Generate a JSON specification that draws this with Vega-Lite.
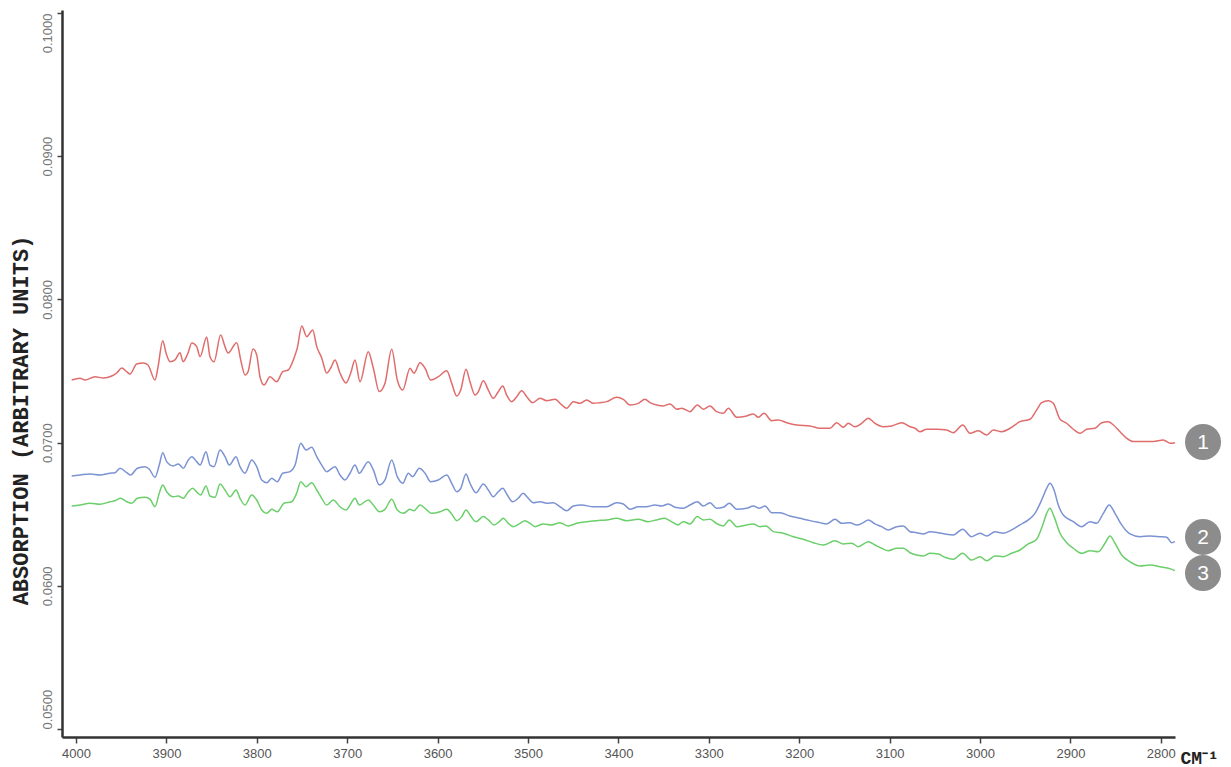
{
"$schema": "https://vega.github.io/schema/vega-lite/v6.json",
"width": 1113, "height": 727,
"autosize": "none",
"padding": {"left": 62, "top": 10, "right": 56, "bottom": 30},
"background": "white",
"config": {"view": {"stroke": null}, "font": "Liberation Sans"},
"datasets": {
"spectra": [
{"s":"1","w":4004.8,"a":0.07437},{"s":"1","w":3995.6,"a":0.07449},{"s":"1","w":3990,"a":0.07437},{"s":"1","w":3979,"a":0.07460},{"s":"1","w":3970,"a":0.07451},{"s":"1","w":3960.5,"a":0.07465},{"s":"1","w":3955,"a":0.07486},{"s":"1","w":3949.4,"a":0.07521},{"s":"1","w":3943.9,"a":0.07495},{"s":"1","w":3940.3,"a":0.07479},{"s":"1","w":3932.9,"a":0.07549},{"s":"1","w":3925.6,"a":0.07556},{"s":"1","w":3920.4,"a":0.07542},{"s":"1","w":3912.6,"a":0.07437},{"s":"1","w":3909.3,"a":0.07528},{"s":"1","w":3904.1,"a":0.07712},{"s":"1","w":3900.4,"a":0.07626},{"s":"1","w":3896,"a":0.07565},{"s":"1","w":3890.5,"a":0.07577},{"s":"1","w":3885,"a":0.07628},{"s":"1","w":3881.6,"a":0.07565},{"s":"1","w":3876.1,"a":0.07626},{"s":"1","w":3872,"a":0.07696},{"s":"1","w":3866.5,"a":0.07670},{"s":"1","w":3862.8,"a":0.07600},{"s":"1","w":3855.4,"a":0.07737},{"s":"1","w":3851.8,"a":0.07600},{"s":"1","w":3847.3,"a":0.07565},{"s":"1","w":3840,"a":0.07751},{"s":"1","w":3835.2,"a":0.07670},{"s":"1","w":3831.9,"a":0.07626},{"s":"1","w":3822.2,"a":0.07698},{"s":"1","w":3817.8,"a":0.07577},{"s":"1","w":3813,"a":0.07472},{"s":"1","w":3809.7,"a":0.07495},{"s":"1","w":3804.2,"a":0.07654},{"s":"1","w":3800.1,"a":0.07612},{"s":"1","w":3796.5,"a":0.07460},{"s":"1","w":3792,"a":0.07402},{"s":"1","w":3785.4,"a":0.07460},{"s":"1","w":3778,"a":0.07425},{"s":"1","w":3771.3,"a":0.07495},{"s":"1","w":3765.2,"a":0.07507},{"s":"1","w":3759.6,"a":0.07577},{"s":"1","w":3755.2,"a":0.07661},{"s":"1","w":3750.3,"a":0.07814},{"s":"1","w":3744.8,"a":0.07740},{"s":"1","w":3738.2,"a":0.07786},{"s":"1","w":3733.7,"a":0.07670},{"s":"1","w":3728.2,"a":0.07591},{"s":"1","w":3722.7,"a":0.07486},{"s":"1","w":3718.3,"a":0.07521},{"s":"1","w":3713.5,"a":0.07577},{"s":"1","w":3708,"a":0.07486},{"s":"1","w":3701.3,"a":0.07416},{"s":"1","w":3696.1,"a":0.07486},{"s":"1","w":3691.4,"a":0.07577},{"s":"1","w":3685.8,"a":0.07425},{"s":"1","w":3676.7,"a":0.07635},{"s":"1","w":3671.1,"a":0.07519},{"s":"1","w":3664.5,"a":0.07356},{"s":"1","w":3658.2,"a":0.07414},{"s":"1","w":3650.8,"a":0.07652},{"s":"1","w":3644.6,"a":0.07437},{"s":"1","w":3638.6,"a":0.07367},{"s":"1","w":3630.5,"a":0.07519},{"s":"1","w":3626.1,"a":0.07484},{"s":"1","w":3619.5,"a":0.07558},{"s":"1","w":3613.9,"a":0.07519},{"s":"1","w":3607.6,"a":0.07437},{"s":"1","w":3599.2,"a":0.07460},{"s":"1","w":3589.9,"a":0.07502},{"s":"1","w":3584.4,"a":0.07414},{"s":"1","w":3578.9,"a":0.07325},{"s":"1","w":3574.4,"a":0.07367},{"s":"1","w":3568.6,"a":0.07512},{"s":"1","w":3564.2,"a":0.07425},{"s":"1","w":3558.6,"a":0.07332},{"s":"1","w":3555,"a":0.07355},{"s":"1","w":3549.4,"a":0.07432},{"s":"1","w":3543.9,"a":0.07367},{"s":"1","w":3538.4,"a":0.07309},{"s":"1","w":3532.9,"a":0.07355},{"s":"1","w":3528,"a":0.07395},{"s":"1","w":3523.6,"a":0.07332},{"s":"1","w":3518.1,"a":0.07286},{"s":"1","w":3512.5,"a":0.07320},{"s":"1","w":3507,"a":0.07362},{"s":"1","w":3501.4,"a":0.07320},{"s":"1","w":3494.8,"a":0.07279},{"s":"1","w":3486.7,"a":0.07309},{"s":"1","w":3479.3,"a":0.07293},{"s":"1","w":3470.1,"a":0.07302},{"s":"1","w":3462.7,"a":0.07263},{"s":"1","w":3457.2,"a":0.07240},{"s":"1","w":3449.9,"a":0.07286},{"s":"1","w":3442.5,"a":0.07274},{"s":"1","w":3435.1,"a":0.07298},{"s":"1","w":3427.8,"a":0.07274},{"s":"1","w":3420.4,"a":0.07279},{"s":"1","w":3413,"a":0.07286},{"s":"1","w":3402,"a":0.07316},{"s":"1","w":3394.6,"a":0.07302},{"s":"1","w":3387.2,"a":0.07263},{"s":"1","w":3378,"a":0.07274},{"s":"1","w":3370.6,"a":0.07302},{"s":"1","w":3365,"a":0.07279},{"s":"1","w":3357.6,"a":0.07263},{"s":"1","w":3350.3,"a":0.07256},{"s":"1","w":3342.9,"a":0.07270},{"s":"1","w":3335.5,"a":0.07233},{"s":"1","w":3329.9,"a":0.07240},{"s":"1","w":3320.8,"a":0.07216},{"s":"1","w":3312.7,"a":0.07263},{"s":"1","w":3306.1,"a":0.07233},{"s":"1","w":3298.7,"a":0.07256},{"s":"1","w":3291.3,"a":0.07216},{"s":"1","w":3283.9,"a":0.07205},{"s":"1","w":3278.4,"a":0.07240},{"s":"1","w":3269.1,"a":0.07177},{"s":"1","w":3258.1,"a":0.07186},{"s":"1","w":3250.8,"a":0.07200},{"s":"1","w":3245.2,"a":0.07177},{"s":"1","w":3238.9,"a":0.07205},{"s":"1","w":3230.4,"a":0.07153},{"s":"1","w":3223.1,"a":0.07158},{"s":"1","w":3213.8,"a":0.07139},{"s":"1","w":3202.8,"a":0.07123},{"s":"1","w":3188.1,"a":0.07116},{"s":"1","w":3177,"a":0.07100},{"s":"1","w":3166,"a":0.07100},{"s":"1","w":3158.5,"a":0.07139},{"s":"1","w":3151.2,"a":0.07107},{"s":"1","w":3145.7,"a":0.07135},{"s":"1","w":3138.3,"a":0.07111},{"s":"1","w":3130.9,"a":0.07135},{"s":"1","w":3123.6,"a":0.07170},{"s":"1","w":3116.2,"a":0.07135},{"s":"1","w":3107,"a":0.07111},{"s":"1","w":3097.7,"a":0.07116},{"s":"1","w":3086.7,"a":0.07139},{"s":"1","w":3077.4,"a":0.07111},{"s":"1","w":3071.9,"a":0.07100},{"s":"1","w":3066.4,"a":0.07076},{"s":"1","w":3059,"a":0.07093},{"s":"1","w":3047.9,"a":0.07093},{"s":"1","w":3036.8,"a":0.07088},{"s":"1","w":3029.5,"a":0.07069},{"s":"1","w":3019.1,"a":0.07123},{"s":"1","w":3011.1,"a":0.07065},{"s":"1","w":3001.9,"a":0.07083},{"s":"1","w":2992.6,"a":0.07053},{"s":"1","w":2985.3,"a":0.07088},{"s":"1","w":2976,"a":0.07076},{"s":"1","w":2966.8,"a":0.07100},{"s":"1","w":2955.8,"a":0.07146},{"s":"1","w":2944.7,"a":0.07163},{"s":"1","w":2937.3,"a":0.07228},{"s":"1","w":2931.8,"a":0.07279},{"s":"1","w":2924.4,"a":0.07293},{"s":"1","w":2918.9,"a":0.07274},{"s":"1","w":2911.5,"a":0.07163},{"s":"1","w":2904.1,"a":0.07135},{"s":"1","w":2896.8,"a":0.07093},{"s":"1","w":2889.4,"a":0.07065},{"s":"1","w":2882,"a":0.07093},{"s":"1","w":2872.8,"a":0.07100},{"s":"1","w":2865.4,"a":0.07139},{"s":"1","w":2858.1,"a":0.07146},{"s":"1","w":2852.5,"a":0.07123},{"s":"1","w":2845.1,"a":0.07076},{"s":"1","w":2837.7,"a":0.07030},{"s":"1","w":2830.4,"a":0.07007},{"s":"1","w":2819.4,"a":0.07007},{"s":"1","w":2808.3,"a":0.07007},{"s":"1","w":2797.3,"a":0.07018},{"s":"1","w":2789.4,"a":0.06995},{"s":"1","w":2784.3,"a":0.06999},
{"s":"2","w":4004.8,"a":0.06767},{"s":"2","w":3995.6,"a":0.06774},{"s":"2","w":3984.5,"a":0.06781},{"s":"2","w":3973.5,"a":0.06774},{"s":"2","w":3962.4,"a":0.06786},{"s":"2","w":3956.9,"a":0.06790},{"s":"2","w":3951.3,"a":0.06821},{"s":"2","w":3943.9,"a":0.06790},{"s":"2","w":3939.5,"a":0.06774},{"s":"2","w":3932.2,"a":0.06821},{"s":"2","w":3923.7,"a":0.06832},{"s":"2","w":3918.9,"a":0.06814},{"s":"2","w":3912.6,"a":0.06758},{"s":"2","w":3907.9,"a":0.06843},{"s":"2","w":3904.1,"a":0.06929},{"s":"2","w":3899.7,"a":0.06867},{"s":"2","w":3892.4,"a":0.06837},{"s":"2","w":3886.8,"a":0.06851},{"s":"2","w":3881.3,"a":0.06821},{"s":"2","w":3875.8,"a":0.06879},{"s":"2","w":3872,"a":0.06902},{"s":"2","w":3866.5,"a":0.06867},{"s":"2","w":3862.8,"a":0.06843},{"s":"2","w":3856.2,"a":0.06936},{"s":"2","w":3851.8,"a":0.06843},{"s":"2","w":3847.3,"a":0.06832},{"s":"2","w":3840.7,"a":0.06948},{"s":"2","w":3835.2,"a":0.06902},{"s":"2","w":3830.4,"a":0.06843},{"s":"2","w":3823,"a":0.06902},{"s":"2","w":3818.6,"a":0.06832},{"s":"2","w":3813.1,"a":0.06786},{"s":"2","w":3805.6,"a":0.06879},{"s":"2","w":3800.1,"a":0.06832},{"s":"2","w":3794.6,"a":0.06739},{"s":"2","w":3789,"a":0.06720},{"s":"2","w":3783.5,"a":0.06751},{"s":"2","w":3777.3,"a":0.06727},{"s":"2","w":3771.3,"a":0.06786},{"s":"2","w":3763.3,"a":0.06797},{"s":"2","w":3757.7,"a":0.06843},{"s":"2","w":3751.4,"a":0.06995},{"s":"2","w":3745.6,"a":0.06948},{"s":"2","w":3739.3,"a":0.06967},{"s":"2","w":3733.7,"a":0.06902},{"s":"2","w":3728.2,"a":0.06843},{"s":"2","w":3722.7,"a":0.06797},{"s":"2","w":3713.5,"a":0.06832},{"s":"2","w":3708,"a":0.06774},{"s":"2","w":3702.4,"a":0.06739},{"s":"2","w":3696.9,"a":0.06786},{"s":"2","w":3691.4,"a":0.06843},{"s":"2","w":3686.6,"a":0.06786},{"s":"2","w":3676.7,"a":0.06867},{"s":"2","w":3671.1,"a":0.06809},{"s":"2","w":3664.5,"a":0.06704},{"s":"2","w":3658.2,"a":0.06739},{"s":"2","w":3650.8,"a":0.06879},{"s":"2","w":3644.6,"a":0.06762},{"s":"2","w":3638.6,"a":0.06716},{"s":"2","w":3632.4,"a":0.06786},{"s":"2","w":3627.6,"a":0.06762},{"s":"2","w":3620.2,"a":0.06821},{"s":"2","w":3613.9,"a":0.06786},{"s":"2","w":3607.6,"a":0.06727},{"s":"2","w":3599.2,"a":0.06739},{"s":"2","w":3589.9,"a":0.06774},{"s":"2","w":3584.4,"a":0.06716},{"s":"2","w":3578.9,"a":0.06657},{"s":"2","w":3574.4,"a":0.06681},{"s":"2","w":3568.6,"a":0.06781},{"s":"2","w":3564.2,"a":0.06716},{"s":"2","w":3557.5,"a":0.06650},{"s":"2","w":3549.4,"a":0.06711},{"s":"2","w":3543.9,"a":0.06669},{"s":"2","w":3538.4,"a":0.06622},{"s":"2","w":3532.9,"a":0.06657},{"s":"2","w":3528,"a":0.06681},{"s":"2","w":3522.9,"a":0.06634},{"s":"2","w":3517,"a":0.06587},{"s":"2","w":3510.8,"a":0.06611},{"s":"2","w":3505.3,"a":0.06646},{"s":"2","w":3499.7,"a":0.06611},{"s":"2","w":3494.2,"a":0.06580},{"s":"2","w":3486.7,"a":0.06587},{"s":"2","w":3479.3,"a":0.06576},{"s":"2","w":3472,"a":0.06580},{"s":"2","w":3464.6,"a":0.06552},{"s":"2","w":3457.2,"a":0.06524},{"s":"2","w":3449.9,"a":0.06557},{"s":"2","w":3440.6,"a":0.06564},{"s":"2","w":3427.8,"a":0.06552},{"s":"2","w":3413,"a":0.06552},{"s":"2","w":3402,"a":0.06580},{"s":"2","w":3394.6,"a":0.06571},{"s":"2","w":3387.2,"a":0.06534},{"s":"2","w":3378,"a":0.06552},{"s":"2","w":3369.2,"a":0.06552},{"s":"2","w":3359.5,"a":0.06564},{"s":"2","w":3352.1,"a":0.06557},{"s":"2","w":3344.8,"a":0.06571},{"s":"2","w":3337.4,"a":0.06548},{"s":"2","w":3328.2,"a":0.06541},{"s":"2","w":3320.8,"a":0.06564},{"s":"2","w":3312.7,"a":0.06587},{"s":"2","w":3306.1,"a":0.06557},{"s":"2","w":3298.7,"a":0.06580},{"s":"2","w":3291.3,"a":0.06541},{"s":"2","w":3284,"a":0.06548},{"s":"2","w":3277.3,"a":0.06576},{"s":"2","w":3269.1,"a":0.06534},{"s":"2","w":3258.1,"a":0.06541},{"s":"2","w":3250.8,"a":0.06557},{"s":"2","w":3244.1,"a":0.06541},{"s":"2","w":3237.8,"a":0.06557},{"s":"2","w":3230.4,"a":0.06510},{"s":"2","w":3221.2,"a":0.06510},{"s":"2","w":3210.2,"a":0.06487},{"s":"2","w":3199.1,"a":0.06471},{"s":"2","w":3188.1,"a":0.06455},{"s":"2","w":3177,"a":0.06441},{"s":"2","w":3169.6,"a":0.06432},{"s":"2","w":3160.4,"a":0.06464},{"s":"2","w":3153,"a":0.06436},{"s":"2","w":3143.8,"a":0.06441},{"s":"2","w":3136.4,"a":0.06424},{"s":"2","w":3129.1,"a":0.06441},{"s":"2","w":3123.6,"a":0.06460},{"s":"2","w":3116.2,"a":0.06432},{"s":"2","w":3108.8,"a":0.06413},{"s":"2","w":3101.5,"a":0.06390},{"s":"2","w":3092.2,"a":0.06413},{"s":"2","w":3084.9,"a":0.06418},{"s":"2","w":3077.4,"a":0.06378},{"s":"2","w":3070,"a":0.06371},{"s":"2","w":3062.7,"a":0.06362},{"s":"2","w":3055.3,"a":0.06378},{"s":"2","w":3046.1,"a":0.06371},{"s":"2","w":3038.8,"a":0.06362},{"s":"2","w":3029.6,"a":0.06355},{"s":"2","w":3019.2,"a":0.06395},{"s":"2","w":3009.3,"a":0.06343},{"s":"2","w":3000,"a":0.06367},{"s":"2","w":2992.6,"a":0.06348},{"s":"2","w":2983.4,"a":0.06378},{"s":"2","w":2974.2,"a":0.06367},{"s":"2","w":2965,"a":0.06390},{"s":"2","w":2955.8,"a":0.06425},{"s":"2","w":2946.6,"a":0.06460},{"s":"2","w":2939.2,"a":0.06506},{"s":"2","w":2931.8,"a":0.06599},{"s":"2","w":2926.3,"a":0.06681},{"s":"2","w":2922.6,"a":0.06716},{"s":"2","w":2918.1,"a":0.06669},{"s":"2","w":2913.4,"a":0.06564},{"s":"2","w":2907.9,"a":0.06494},{"s":"2","w":2896.8,"a":0.06448},{"s":"2","w":2887.5,"a":0.06413},{"s":"2","w":2878.3,"a":0.06448},{"s":"2","w":2870.9,"a":0.06436},{"s":"2","w":2863.6,"a":0.06506},{"s":"2","w":2857,"a":0.06564},{"s":"2","w":2850.7,"a":0.06506},{"s":"2","w":2843.3,"a":0.06425},{"s":"2","w":2834.1,"a":0.06362},{"s":"2","w":2823,"a":0.06343},{"s":"2","w":2812,"a":0.06348},{"s":"2","w":2800.9,"a":0.06343},{"s":"2","w":2793.5,"a":0.06339},{"s":"2","w":2788,"a":0.06301},{"s":"2","w":2784.3,"a":0.06308},
{"s":"3","w":4004.8,"a":0.06557},{"s":"3","w":3995.6,"a":0.06564},{"s":"3","w":3984.5,"a":0.06576},{"s":"3","w":3973.5,"a":0.06569},{"s":"3","w":3962.4,"a":0.06587},{"s":"3","w":3956.9,"a":0.06594},{"s":"3","w":3950.6,"a":0.06611},{"s":"3","w":3943.9,"a":0.06587},{"s":"3","w":3938.4,"a":0.06576},{"s":"3","w":3932.2,"a":0.06611},{"s":"3","w":3923.7,"a":0.06618},{"s":"3","w":3918.1,"a":0.06604},{"s":"3","w":3912.6,"a":0.06552},{"s":"3","w":3907.9,"a":0.06646},{"s":"3","w":3904.1,"a":0.06704},{"s":"3","w":3899.7,"a":0.06657},{"s":"3","w":3892.4,"a":0.06622},{"s":"3","w":3886.8,"a":0.06627},{"s":"3","w":3881.3,"a":0.06611},{"s":"3","w":3875.8,"a":0.06657},{"s":"3","w":3870.9,"a":0.06681},{"s":"3","w":3865.8,"a":0.06650},{"s":"3","w":3862.1,"a":0.06634},{"s":"3","w":3856.2,"a":0.06697},{"s":"3","w":3851.8,"a":0.06627},{"s":"3","w":3846.2,"a":0.06618},{"s":"3","w":3840.7,"a":0.06711},{"s":"3","w":3835.2,"a":0.06669},{"s":"3","w":3829.6,"a":0.06622},{"s":"3","w":3823,"a":0.06669},{"s":"3","w":3818.6,"a":0.06611},{"s":"3","w":3813.1,"a":0.06564},{"s":"3","w":3805.6,"a":0.06634},{"s":"3","w":3800.1,"a":0.06599},{"s":"3","w":3794.6,"a":0.06529},{"s":"3","w":3789,"a":0.06506},{"s":"3","w":3783.5,"a":0.06534},{"s":"3","w":3777.3,"a":0.06517},{"s":"3","w":3769.9,"a":0.06576},{"s":"3","w":3761.4,"a":0.06587},{"s":"3","w":3755.9,"a":0.06646},{"s":"3","w":3751.4,"a":0.06727},{"s":"3","w":3745.6,"a":0.06692},{"s":"3","w":3739.3,"a":0.06720},{"s":"3","w":3733.7,"a":0.06669},{"s":"3","w":3728.2,"a":0.06611},{"s":"3","w":3722.7,"a":0.06564},{"s":"3","w":3715.4,"a":0.06599},{"s":"3","w":3708,"a":0.06552},{"s":"3","w":3701.3,"a":0.06529},{"s":"3","w":3696.9,"a":0.06564},{"s":"3","w":3691.4,"a":0.06611},{"s":"3","w":3686.6,"a":0.06564},{"s":"3","w":3676.7,"a":0.06599},{"s":"3","w":3671.1,"a":0.06564},{"s":"3","w":3664.5,"a":0.06517},{"s":"3","w":3658.2,"a":0.06534},{"s":"3","w":3650.8,"a":0.06604},{"s":"3","w":3644.6,"a":0.06529},{"s":"3","w":3638,"a":0.06506},{"s":"3","w":3630.5,"a":0.06534},{"s":"3","w":3626.1,"a":0.06524},{"s":"3","w":3619.5,"a":0.06564},{"s":"3","w":3612.8,"a":0.06534},{"s":"3","w":3606.5,"a":0.06506},{"s":"3","w":3597.3,"a":0.06517},{"s":"3","w":3589.9,"a":0.06534},{"s":"3","w":3584.4,"a":0.06501},{"s":"3","w":3578.9,"a":0.06455},{"s":"3","w":3573.3,"a":0.06483},{"s":"3","w":3568.6,"a":0.06529},{"s":"3","w":3563.4,"a":0.06487},{"s":"3","w":3557.5,"a":0.06448},{"s":"3","w":3549.4,"a":0.06483},{"s":"3","w":3543.9,"a":0.06460},{"s":"3","w":3537.6,"a":0.06425},{"s":"3","w":3531.8,"a":0.06448},{"s":"3","w":3527.3,"a":0.06471},{"s":"3","w":3521.8,"a":0.06436},{"s":"3","w":3516.3,"a":0.06413},{"s":"3","w":3508.8,"a":0.06436},{"s":"3","w":3503.3,"a":0.06455},{"s":"3","w":3497.8,"a":0.06436},{"s":"3","w":3492.3,"a":0.06413},{"s":"3","w":3483.1,"a":0.06432},{"s":"3","w":3473.8,"a":0.06425},{"s":"3","w":3464.6,"a":0.06441},{"s":"3","w":3455.5,"a":0.06418},{"s":"3","w":3446.2,"a":0.06436},{"s":"3","w":3435.1,"a":0.06448},{"s":"3","w":3424.1,"a":0.06455},{"s":"3","w":3413,"a":0.06460},{"s":"3","w":3402,"a":0.06471},{"s":"3","w":3390.9,"a":0.06455},{"s":"3","w":3378,"a":0.06464},{"s":"3","w":3367.3,"a":0.06448},{"s":"3","w":3358,"a":0.06460},{"s":"3","w":3348.9,"a":0.06471},{"s":"3","w":3341.4,"a":0.06448},{"s":"3","w":3334.2,"a":0.06425},{"s":"3","w":3328.2,"a":0.06448},{"s":"3","w":3320.8,"a":0.06432},{"s":"3","w":3312.7,"a":0.06483},{"s":"3","w":3306.1,"a":0.06460},{"s":"3","w":3298.7,"a":0.06464},{"s":"3","w":3290.6,"a":0.06432},{"s":"3","w":3284,"a":0.06418},{"s":"3","w":3277.3,"a":0.06460},{"s":"3","w":3269.1,"a":0.06413},{"s":"3","w":3258.1,"a":0.06425},{"s":"3","w":3250.8,"a":0.06432},{"s":"3","w":3243.4,"a":0.06413},{"s":"3","w":3236.7,"a":0.06418},{"s":"3","w":3228.6,"a":0.06378},{"s":"3","w":3217.6,"a":0.06367},{"s":"3","w":3206.5,"a":0.06343},{"s":"3","w":3195.5,"a":0.06325},{"s":"3","w":3184.4,"a":0.06301},{"s":"3","w":3173.3,"a":0.06285},{"s":"3","w":3160.4,"a":0.06315},{"s":"3","w":3151.2,"a":0.06292},{"s":"3","w":3141.9,"a":0.06297},{"s":"3","w":3134.6,"a":0.06273},{"s":"3","w":3123.6,"a":0.06308},{"s":"3","w":3116.2,"a":0.06285},{"s":"3","w":3108.8,"a":0.06262},{"s":"3","w":3101.5,"a":0.06245},{"s":"3","w":3092.2,"a":0.06262},{"s":"3","w":3084.9,"a":0.06262},{"s":"3","w":3077.4,"a":0.06231},{"s":"3","w":3070,"a":0.06215},{"s":"3","w":3062.7,"a":0.06208},{"s":"3","w":3055.3,"a":0.06227},{"s":"3","w":3046.1,"a":0.06222},{"s":"3","w":3038.8,"a":0.06199},{"s":"3","w":3029.6,"a":0.06185},{"s":"3","w":3019.2,"a":0.06227},{"s":"3","w":3009.3,"a":0.06180},{"s":"3","w":3000,"a":0.06203},{"s":"3","w":2992.6,"a":0.06175},{"s":"3","w":2983.4,"a":0.06208},{"s":"3","w":2974.2,"a":0.06203},{"s":"3","w":2965,"a":0.06227},{"s":"3","w":2955.8,"a":0.06250},{"s":"3","w":2946.6,"a":0.06292},{"s":"3","w":2937.3,"a":0.06325},{"s":"3","w":2930.6,"a":0.06425},{"s":"3","w":2926.3,"a":0.06506},{"s":"3","w":2922.6,"a":0.06541},{"s":"3","w":2918.1,"a":0.06483},{"s":"3","w":2911.5,"a":0.06367},{"s":"3","w":2904.1,"a":0.06301},{"s":"3","w":2896.8,"a":0.06262},{"s":"3","w":2887.5,"a":0.06227},{"s":"3","w":2878.3,"a":0.06245},{"s":"3","w":2869.1,"a":0.06238},{"s":"3","w":2861.7,"a":0.06297},{"s":"3","w":2856.2,"a":0.06348},{"s":"3","w":2850.7,"a":0.06297},{"s":"3","w":2843.3,"a":0.06215},{"s":"3","w":2834.1,"a":0.06168},{"s":"3","w":2823,"a":0.06138},{"s":"3","w":2812,"a":0.06145},{"s":"3","w":2800.9,"a":0.06133},{"s":"3","w":2791.7,"a":0.06122},{"s":"3","w":2784.3,"a":0.06106}
],
"tags": [
{"s":"1","w":2753.3,"a":0.07004},
{"s":"2","w":2753.3,"a":0.06341},
{"s":"3","w":2753.3,"a":0.06089}
]
},
"encoding": {
"x": {"field":"w","type":"quantitative",
 "scale":{"domain":[2784.3,4015.5],"reverse":true,"nice":false,"zero":false},
 "axis":{"values":[4000,3900,3800,3700,3600,3500,3400,3300,3200,3100,3000,2900,2800],"format":"d",
  "title":"CM⁻¹","titleFont":"Liberation Mono","titleFontWeight":"bold","titleFontSize":18,"titleColor":"#222",
  "titleX":1118,"titleY":21,"titleAlign":"left","titleBaseline":"middle","titleAngle":0,
  "labelFont":"Liberation Sans","labelFontSize":13,"labelColor":"#555","labelPadding":4,"labelOverlap":false,"labelFlush":false,
  "tickSize":6,"tickColor":"#444","tickWidth":1.5,"domainColor":"#333","domainWidth":2.5,"grid":false}},
"y": {"field":"a","type":"quantitative",
 "scale":{"domain":[0.04944,0.10021],"nice":false,"zero":false},
 "axis":{"values":[0.05,0.06,0.07,0.08,0.09,0.1],"format":".4f",
  "title":"ABSORPTION (ARBITRARY UNITS)","titleFont":"Liberation Mono","titleFontWeight":"bold","titleFontSize":22,"titleColor":"#222",
  "titleAngle":-90,"titleX":-42,"titleY":410,"titleAlign":"center","titleBaseline":"middle",
  "labelAngle":-90,
  "labelAlign":{"condition":[{"test":"datum.value > 0.0995","value":"right"},{"test":"datum.value < 0.0505","value":"left"}],"value":"center"},
  "labelBaseline":"bottom","labelFont":"Liberation Sans","labelFontSize":13,"labelColor":"#777","labelPadding":3,"labelOverlap":false,"labelFlush":false,
  "tickSize":5,"tickColor":"#444","tickWidth":1.5,"domainColor":"#333","domainWidth":2.5,"grid":false}}
},
"layer": [
{"data":{"name":"spectra"},
 "mark":{"type":"line","strokeWidth":1.5,"interpolate":"monotone","clip":false},
 "encoding":{"color":{"field":"s","type":"nominal","scale":{"domain":["1","2","3"],"range":["#e06c6c","#7b93d3","#6bcf6b"]},"legend":null}}},
{"data":{"name":"tags"},
 "mark":{"type":"point","shape":"circle","filled":true,"size":1300,"color":"#8c8c8c","opacity":1}},
{"data":{"name":"tags"},
 "mark":{"type":"text","color":"white","fontSize":21,"font":"Liberation Sans","baseline":"middle","align":"center","dy":1},
 "encoding":{"text":{"field":"s"}}}
]
}
